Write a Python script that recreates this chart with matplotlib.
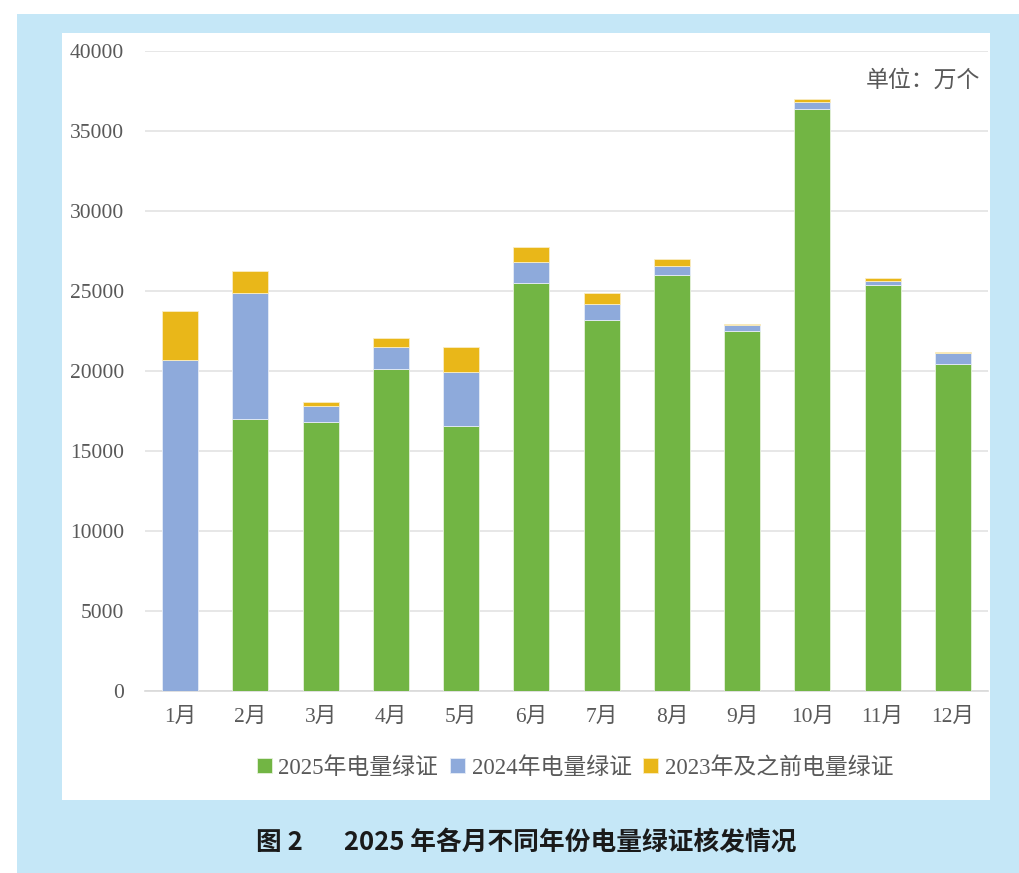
import matplotlib
matplotlib.use("Agg")
import matplotlib.pyplot as plt
from matplotlib.patches import Rectangle
import numpy as np

# data (万个)
months = ["1月", "2月", "3月", "4月", "5月", "6月", "7月", "8月", "9月", "10月", "11月", "12月"]
green_2025 = [0, 16960, 16810, 20120, 16560, 25520, 23210, 25980, 22500, 36400, 25340, 20420]
blue_2024 = [20670, 7880, 1000, 1360, 3340, 1260, 1000, 580, 360, 440, 250, 670]
yellow_2023 = [3060, 1390, 250, 560, 1620, 970, 660, 460, 100, 160, 190, 80]
series_names = ["2025年电量绿证", "2024年电量绿证", "2023年及之前电量绿证"]
yticks = [0, 5000, 10000, 15000, 20000, 25000, 30000, 35000, 40000]

c_green = "#72b544"
c_blue = "#8eaadb"
c_yellow = "#e9b719"
c_text = "#595959"
c_frame = "#c5e7f7"

serif_cjk = ["Liberation Serif", "Noto Sans CJK SC", "DejaVu Sans"]
sans_cjk = ["Noto Sans CJK SC", "DejaVu Sans"]

fig = plt.figure(figsize=(10.2, 8.73), dpi=100)
fig.patch.set_facecolor("white")

# light blue frame and white inner panel
fig.patches.append(Rectangle((17 / 1020, 0), 1 - 17 / 1020, (873 - 14) / 873,
                             transform=fig.transFigure, facecolor=c_frame,
                             edgecolor="none", zorder=-10))
fig.patches.append(Rectangle((62 / 1020, 1 - 800 / 873), 928 / 1020, 767 / 873,
                             transform=fig.transFigure, facecolor="white",
                             edgecolor="none", zorder=-9))

ax = fig.add_axes([145 / 1020, 1 - 690.7 / 873, 843 / 1020, (690.7 - 51) / 873])
ax.set_facecolor("none")

x = np.arange(len(months))
g = np.array(green_2025)
b = np.array(blue_2024)
y = np.array(yellow_2023)
w = 0.51
bars_g = ax.bar(x, g, w, color=c_green, edgecolor="#e6f2dc", linewidth=0.6, label=series_names[0], zorder=3)
bars_b = ax.bar(x, b, w, bottom=g, color=c_blue, edgecolor="#e6ecf7", linewidth=0.6, label=series_names[1], zorder=3)
bars_y = ax.bar(x, y, w, bottom=g + b, color=c_yellow, edgecolor="#faedc4", linewidth=0.6, label=series_names[2], zorder=3)

ax.set_xlim(-0.5, len(months) - 0.5)
ax.set_ylim(0, 40000)
ax.set_yticks(yticks)
ax.set_yticklabels([str(v) for v in yticks])
ax.set_xticks(x)
ax.set_xticklabels(months)
ax.grid(axis="y", color="#e3e3e3", linewidth=1.2, zorder=0)
ax.set_axisbelow(True)
for s in ["top", "right", "left"]:
    ax.spines[s].set_visible(False)
ax.spines["bottom"].set_color("#d9d9d9")
ax.spines["bottom"].set_linewidth(1.2)
ax.tick_params(axis="both", length=0, colors=c_text)
ax.tick_params(axis="y", pad=15)
ax.tick_params(axis="x", pad=12)
for lab in ax.get_xticklabels() + ax.get_yticklabels():
    lab.set_family(serif_cjk)
    lab.set_fontsize(15.5)
    lab.set_color(c_text)

fig.text(980 / 1020, 1 - 80 / 873, "单位：万个", ha="right", va="center",
         fontsize=16.5, color=c_text, family=sans_cjk)

leg = fig.legend(handles=[bars_g, bars_b, bars_y], labels=series_names,
                 loc="center", bbox_to_anchor=(575 / 1020, 1 - 768 / 873),
                 ncol=3, frameon=False, handlelength=0.65, handleheight=0.65,
                 handletextpad=0.3, columnspacing=0.5,
                 prop={"family": serif_cjk, "size": 16.5})
for t in leg.get_texts():
    t.set_color(c_text)

fig.text(256 / 1020, 1 - 843 / 873, "图 2       2025 年各月不同年份电量绿证核发情况",
         ha="left", va="center", fontsize=18.5, fontweight="bold",
         color="#1a1a1a", family=sans_cjk)

fig.savefig("out.png", dpi=100)
